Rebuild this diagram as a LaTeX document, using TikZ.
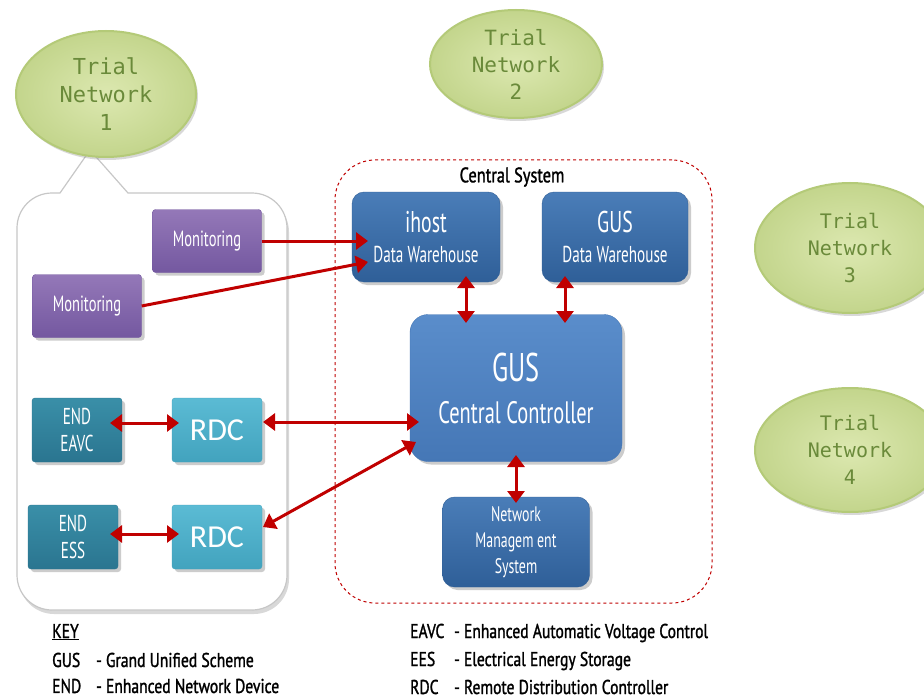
\documentclass[tikz,border=0pt]{standalone}
\usepackage{fontspec}
\setmainfont{PT Sans}
\newfontfamily\boxfont[FakeStretch=0.66]{PT Sans}
\newfontfamily\keyfont[FakeStretch=0.78,FakeBold=1.3]{PT Sans}
\newfontfamily\tnfont{DejaVu Sans Mono}
\newfontfamily\calfont{Carlito}
\usetikzlibrary{arrows.meta,shadows,shapes.geometric}
\definecolor{arrowred}{HTML}{C00000}
\definecolor{tnfill}{HTML}{DCE8B0}
\definecolor{tnouter}{HTML}{C3D58C}
\definecolor{tnedge}{HTML}{B4CA78}
\definecolor{tntext}{HTML}{6A8A3A}
\definecolor{purpleA}{HTML}{9478B8}
\definecolor{purpleB}{HTML}{7458A0}
\definecolor{tealA}{HTML}{3A8FA8}
\definecolor{tealB}{HTML}{2A7590}
\definecolor{cyanA}{HTML}{5BBBD4}
\definecolor{cyanB}{HTML}{42A3BE}
\definecolor{blueA}{HTML}{4A7DB8}
\definecolor{blueB}{HTML}{2F5F98}
\definecolor{ccA}{HTML}{5A8DCB}
\definecolor{ccB}{HTML}{4577B6}
\tikzset{
  trialnet/.style={ellipse, inner color=tnfill, outer color=tnouter, draw=tnedge, line width=2pt,
    inner sep=0pt, text=tntext, align=center,
    drop shadow={opacity=0.3, shadow xshift=2pt, shadow yshift=-3pt}},
  sysbox/.style={rectangle, rounded corners=3pt, inner sep=0pt, align=center,
    text=white,
    drop shadow={opacity=0.4, shadow xshift=3pt, shadow yshift=-3pt}},
  monbox/.style={sysbox, top color=purpleA, bottom color=purpleB, draw=purpleB,
    minimum width=109pt, minimum height=63pt, font=\boxfont\fontsize{22}{24}\selectfont},
  endbox/.style={sysbox, top color=tealA, bottom color=tealB, draw=tealB,
    minimum width=90pt, minimum height=64pt, font=\boxfont\fontsize{23}{27}\selectfont},
  rdcbox/.style={sysbox, top color=cyanA, bottom color=cyanB, draw=cyanB,
    minimum width=90pt, minimum height=64pt, font=\calfont\fontsize{32}{34}\selectfont},
  bluebox/.style={sysbox, rounded corners=12pt, top color=blueA, bottom color=blueB, draw=blueB},
  ccbox/.style={sysbox, rounded corners=18pt, top color=ccA, bottom color=ccB, draw=ccB},
  link/.style={draw=arrowred, line width=3pt},
  dlink/.style={link, {Triangle[length=12pt,width=17pt]}-{Triangle[length=12pt,width=17pt]}},
  slink/.style={link, -{Triangle[length=12pt,width=17pt]}},
  keytext/.style={anchor=west, inner sep=0pt, font=\keyfont\fontsize{20}{22}\selectfont}
}
\begin{document}
\begin{tikzpicture}[x=1pt,y=-1pt]
\useasboundingbox (0,0) rectangle (924,698);
\fill[white] (0,0) rectangle (924,698);

% callout box
\path[fill=white, draw=black!22, line width=1.2pt,
  drop shadow={opacity=0.3, shadow xshift=2pt, shadow yshift=-4pt}]
  (128,193) -- (252,193) arc[start angle=-90,end angle=0,radius=35]
  -- (287,575) arc[start angle=0,end angle=90,radius=35]
  -- (52,610) arc[start angle=90,end angle=180,radius=35]
  -- (17,228) arc[start angle=180,end angle=270,radius=35]
  -- (60,193) -- (90,150) -- cycle;

% trial networks
\node[trialnet, minimum width=180pt, minimum height=126pt,
  font=\tnfont\fontsize{22}{28}\selectfont] (tn1) at (106,94) {Trial\\Network\\1};
\node[trialnet, minimum width=172pt, minimum height=108pt,
  font=\tnfont\fontsize{21}{27}\selectfont] (tn2) at (516,64) {Trial\\Network\\2};
\node[trialnet, minimum width=190pt, minimum height=130pt,
  font=\tnfont\fontsize{20}{27}\selectfont] (tn3) at (850,248) {Trial\\Network\\3};
\node[trialnet, minimum width=190pt, minimum height=124pt,
  font=\tnfont\fontsize{20}{27}\selectfont] (tn4) at (850,450) {Trial\\Network\\4};

% central system
\node[draw=arrowred, dashed, line width=1pt, rounded corners=40pt,
  minimum width=377pt, minimum height=443pt, inner sep=0pt] (cs) at (523.5,381.5) {};
\node[font=\keyfont\fontsize{21}{22}\selectfont, inner sep=0pt] (cslabel) at (512,177) {Central System};

\node[bluebox, minimum width=148pt, minimum height=90pt,
  font=\boxfont\fontsize{23}{30}\selectfont] (ihost) at (426,237)
  {{\fontsize{30}{30}\selectfont ihost}\\Data Warehouse};
\node[bluebox, minimum width=146pt, minimum height=90pt,
  font=\boxfont\fontsize{23}{30}\selectfont] (gusdw) at (615,237)
  {{\fontsize{30}{30}\selectfont GUS}\\Data Warehouse};
\node[ccbox, minimum width=212pt, minimum height=147pt,
  font=\boxfont\fontsize{31}{42}\selectfont] (cc) at (516,388)
  {{\fontsize{40}{40}\selectfont GUS}\\Central Controller};
\node[bluebox, minimum width=147pt, minimum height=90pt,
  font=\boxfont\fontsize{21}{26}\selectfont] (nms) at (516,542)
  {Network\\Managem ent\\System};

% left devices
\node[monbox] (mon1) at (207,241) {Monitoring};
\node[monbox] (mon2) at (87,306) {Monitoring};
\node[endbox] (end1) at (77,430) {END\\EAVC};
\node[rdcbox] (rdc1) at (217,430) {RDC};
\node[endbox] (end2) at (73,537) {END\\ESS};
\node[rdcbox] (rdc2) at (217,537) {RDC};

% connector end points
\coordinate (ihin1) at (368,241);
\coordinate (ihin2) at (368,262);
\coordinate (ihbot) at (466,276);
\coordinate (cctop1) at (466,323);
\coordinate (gusbot) at (565,276);
\coordinate (cctop2) at (565,323);
\coordinate (ccl1) at (419,422);
\coordinate (ccl2) at (416,442);
\coordinate (rdc1r) at (263,422);
\coordinate (rdc2r) at (263,527);
\coordinate (ccbot) at (516,455);
\coordinate (nmstop) at (516,503);
\coordinate (end1r) at (110,423);
\coordinate (rdc1l) at (179,423);
\coordinate (end2r) at (110,534);
\coordinate (rdc2l) at (179,534);

% connectors
\draw[slink] (mon1.east) -- (ihin1);
\draw[slink] (mon2.east) -- (ihin2);
\draw[dlink] (ihbot) -- (cctop1);
\draw[dlink] (gusbot) -- (cctop2);
\draw[dlink] (rdc1r) -- (ccl1);
\draw[dlink] (rdc2r) -- (ccl2);
\draw[dlink] (ccbot) -- (nmstop);
\draw[dlink] (end1r) -- (rdc1l);
\draw[dlink] (end2r) -- (rdc2l);

% key
\node[keytext] (key) at (52,632) {\underline{KEY}};
\node[keytext] (k1) at (52,660) {\makebox[44pt][l]{GUS}- Grand Unified Scheme};
\node[keytext] (k2) at (52,686) {\makebox[44pt][l]{END}- Enhanced Network Device};
\node[keytext] (k3) at (410,633) {\makebox[44pt][l]{EAVC}- Enhanced Automatic Voltage Control};
\node[keytext] (k4) at (410,661) {\makebox[44pt][l]{EES}- Electrical Energy Storage};
\node[keytext] (k5) at (410,687) {\makebox[44pt][l]{RDC}- Remote Distribution Controller};
\end{tikzpicture}
\end{document}
